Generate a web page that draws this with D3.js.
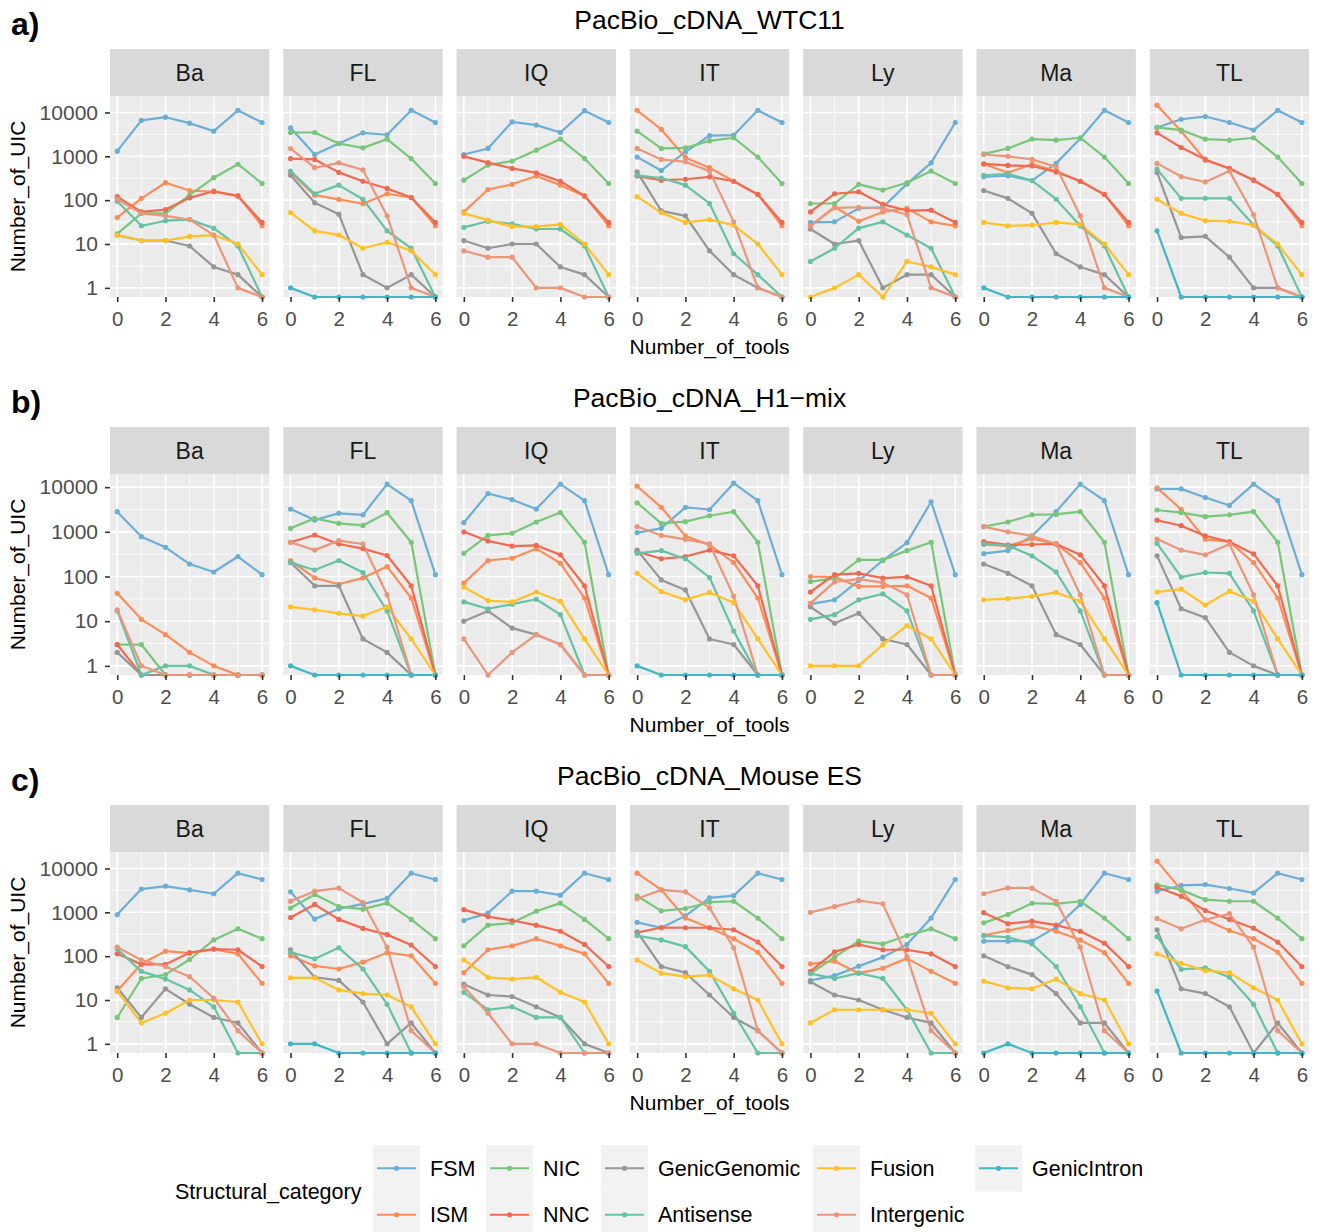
<!DOCTYPE html>
<html>
<head>
<meta charset="utf-8">
<script src="https://cdn.jsdelivr.net/npm/d3@7"></script>
<style>
  body { margin: 0; background: #fff; }
  text { font-family: "Liberation Sans", Arial, sans-serif; }
</style>
</head>
<body>
<svg id="chart" width="1324" height="1232"></svg>
<script>
// tools (facets), x values and structural categories
const tools = ["Ba", "FL", "IQ", "IT", "Ly", "Ma", "TL"];
const nTools = [0, 1, 2, 3, 4, 5, 6];
const categories = ["FSM", "ISM", "NIC", "NNC", "GenicGenomic", "Antisense", "Fusion", "Intergenic", "GenicIntron"];
const catColors = ["#6BAED6", "#FC8D59", "#78C679", "#EE6A50", "#969696", "#66C2A4", "#FFC125", "#E9967A", "#41B6C4"];
const datasets = ["PacBio_cDNA_WTC11", "PacBio_cDNA_H1\u2212mix", "PacBio_cDNA_Mouse ES"];
const rowLabels = ["a)", "b)", "c)"];
const yTicks = [1, 10, 100, 1000, 10000];
const xTicks = [0, 2, 4, 6];

// values per dataset and tool, rows in the order of `categories` (null = not present)
// a) WTC11
const wtc11_Ba = [
  [1310, 6600, 7800, 5700, 3750, 11200, 5900],
  [40, 110, 250, 166, 155, 125, 26],
  [17, 50, 50, 130, 325, 660, 240],
  [120, 54, 61, 113, 160, 125, 31],
  [16, 12, 12, 9, 3, 2, 0],
  [95, 26, 34, 36, 23, 9, 0],
  [16, 12, 12, 15, 16, 10, 2],
  [105, 50, 44, 36, 16, 1, 0],
  null];
const wtc11_FL = [
  [4470, 1100, 1960, 3440, 3100, 11200, 5900],
  [430, 130, 104, 83, 140, 115, 26],
  [3490, 3490, 1960, 1560, 2470, 890, 240],
  [890, 850, 430, 270, 185, 115, 31],
  [370, 87, 48, 2, 1, 2, 0],
  [460, 140, 220, 105, 20, 8, 0],
  [52, 20, 16, 8, 11, 7, 2],
  [1500, 550, 710, 490, 44, 1, 0],
  [1, 0, 0, 0, 0, 0, 0]];
const wtc11_IQ = [
  [1100, 1510, 6100, 5150, 3500, 11000, 5900],
  [54, 175, 230, 355, 220, 125, 26],
  [285, 630, 780, 1380, 2470, 890, 240],
  [1000, 720, 530, 420, 270, 125, 31],
  [12, 8, 10, 10, 3, 2, 0],
  [24, 33, 29, 22, 22, 9, 0],
  [50, 35, 25, 25, 28, 10, 2],
  [7, 5, 5, 1, 1, 0, 0],
  null];
const wtc11_IT = [
  [960, 475, 1260, 2950, 3030, 11200, 5900],
  [11200, 4100, 930, 550, 270, 135, 26],
  [3750, 1510, 1560, 2250, 2650, 960, 240],
  [355, 285, 300, 340, 270, 135, 31],
  [440, 57, 44, 7, 2, 1, 0],
  [370, 320, 220, 84, 6, 2, 0],
  [120, 52, 31, 36, 27, 10, 2],
  [1510, 850, 750, 460, 32, 1, 0],
  null];
const wtc11_Ly = [
  [31, 32, 65, 69, 235, 710, 5900],
  [26, 70, 33, 54, 65, 32, 26],
  [84, 84, 230, 170, 250, 460, 240],
  [54, 140, 155, 80, 58, 59, 31],
  [22, 10, 12, 1, 2, 2, 0],
  [4, 8, 23, 32, 16, 8, 0],
  [0, 1, 2, 0, 4, 3, 2],
  [26, 67, 69, 65, 47, 1, 0],
  null];
const wtc11_Ma = [
  [340, 360, 280, 690, 2560, 11200, 5900],
  [670, 420, 670, 460, 270, 135, 26],
  [1140, 1510, 2470, 2340, 2650, 960, 240],
  [670, 620, 600, 440, 270, 135, 31],
  [166, 110, 50, 6, 3, 2, 0],
  [370, 400, 280, 105, 26, 9, 0],
  [31, 26, 27, 31, 28, 10, 2],
  [1100, 1000, 850, 575, 44, 1, 0],
  [1, 0, 0, 0, 0, 0, 0]];
const wtc11_TL = [
  [4560, 7000, 8100, 5900, 3970, 11200, 5900],
  [14700, 3750, 815, 530, 285, 135, 26],
  [4560, 3970, 2470, 2340, 2650, 960, 240],
  [3430, 1590, 850, 530, 285, 135, 31],
  [430, 14, 15, 5, 1, 1, 0],
  [510, 110, 110, 110, 27, 9, 0],
  [105, 50, 34, 33, 27, 10, 2],
  [690, 345, 260, 460, 47, 1, 0],
  [20, 0, 0, 0, 0, 0, 0]];

// b) H1-mix
const h1_Ba = [
  [2820, 780, 450, 190, 126, 280, 110],
  [42, 11, 5, 2, 1, 0, 0],
  [3, 3, 0, 0, 0, 0, 0],
  [3, 0, 0, 0, 0, 0, 0],
  [2, 0, 0, 0, 0, 0, 0],
  [17, 0, 1, 1, 0, 0, 0],
  null,
  [18, 1, 0, 0, 0, 0, 0],
  null];
const h1_FL = [
  [3230, 1830, 2600, 2400, 11700, 4990, 110],
  [228, 93, 67, 93, 167, 33, 0],
  [1200, 2000, 1550, 1390, 2680, 585, 0],
  [585, 850, 535, 420, 295, 62, 0],
  [205, 62, 62, 4, 2, 0, 0],
  [205, 140, 228, 123, 17, 0, 0],
  [21, 18, 15, 13, 21, 4, 0],
  [585, 390, 635, 535, 39, 0, 0],
  [1, 0, 0, 0, 0, 0, 0]];
const h1_IQ = [
  [1600, 7200, 5250, 3230, 11700, 4990, 110],
  [71, 228, 256, 420, 198, 33, 0],
  [330, 830, 930, 1660, 2700, 585, 0],
  [1000, 625, 480, 500, 305, 62, 0],
  [10, 17, 7, 5, 3, 0, 0],
  [27, 19, 24, 31, 14, 0, 0],
  [58, 29, 27, 45, 28, 4, 0],
  [4, 0, 2, 5, 3, 0, 0],
  null];
const h1_IT = [
  [960, 1200, 3540, 3160, 12300, 4990, 110],
  [10500, 3540, 810, 510, 205, 33, 0],
  [4470, 1550, 1690, 2290, 2820, 585, 0],
  [360, 250, 280, 390, 290, 62, 0],
  [390, 84, 50, 4, 3, 0, 0],
  [330, 380, 250, 95, 6, 0, 0],
  [118, 46, 30, 44, 26, 4, 0],
  [1310, 830, 680, 535, 36, 0, 0],
  [1, 0, 0, 0, 0, 0, 0]];
const h1_Ly = [
  [24, 30, 81, 228, 575, 4700, 110],
  [100, 97, 60, 60, 62, 33, 0],
  [77, 91, 235, 235, 380, 585, 0],
  [45, 110, 118, 92, 98, 62, 0],
  [21, 9, 15, 4, 3, 0, 0],
  [11, 14, 30, 41, 17, 0, 0],
  [1, 1, 1, 3, 8, 4, 0],
  [25, 76, 87, 73, 39, 0, 0],
  null];
const h1_Ma = [
  [325, 380, 810, 2820, 11700, 4990, 110],
  [520, 480, 705, 535, 205, 33, 0],
  [1310, 1660, 2410, 2450, 2820, 585, 0],
  [605, 510, 520, 535, 305, 62, 0],
  [190, 118, 62, 5, 3, 0, 0],
  [535, 495, 290, 126, 17, 0, 0],
  [30, 32, 36, 44, 28, 4, 0],
  [1310, 1000, 810, 535, 39, 0, 0],
  null];
const h1_TL = [
  [9150, 9150, 5850, 3900, 11700, 4990, 110],
  [9660, 3200, 680, 600, 205, 33, 0],
  [3080, 2680, 2180, 2400, 2820, 585, 0],
  [1820, 1370, 810, 600, 320, 62, 0],
  [290, 19, 12, 2, 1, 0, 0],
  [550, 97, 123, 118, 17, 0, 0],
  [45, 52, 23, 47, 28, 4, 0],
  [690, 390, 305, 535, 39, 0, 0],
  [26, 0, 0, 0, 0, 0, 0]];

// c) Mouse ES
const mouse_Ba = [
  [890, 3390, 3960, 3250, 2650, 7800, 5600],
  [16, 67, 130, 117, 145, 113, 24],
  [4, 31, 38, 84, 235, 420, 250],
  [113, 65, 65, 120, 145, 140, 58],
  [19, 4, 18, 8, 4, 3, 0],
  [145, 45, 30, 17, 7, 0, 0],
  [16, 3, 5, 10, 10, 9, 1],
  [160, 82, 58, 34, 11, 2, 0],
  null];
const mouse_FL = [
  [2930, 700, 1200, 1560, 2080, 7800, 5600],
  [102, 60, 51, 73, 120, 102, 24],
  [1250, 2560, 1350, 1180, 1620, 690, 250],
  [760, 1510, 690, 430, 310, 180, 58],
  [140, 33, 28, 9, 1, 3, 0],
  [123, 87, 155, 51, 8, 0, 0],
  [32, 32, 17, 14, 13, 7, 1],
  [1800, 3030, 3560, 1670, 160, 2, 0],
  [1, 1, 0, 0, 0, 0, 0]];
const mouse_IQ = [
  [650, 960, 3030, 3030, 2460, 7800, 5600],
  [42, 140, 172, 250, 172, 113, 24],
  [172, 510, 575, 1060, 1620, 690, 250],
  [1150, 800, 650, 510, 370, 185, 58],
  [23, 13, 12, 7, 4, 1, 0],
  [15, 6, 7, 4, 4, 0, 0],
  [82, 33, 30, 33, 15, 9, 1],
  [20, 5, 1, 1, 0, 0, 0],
  null];
const mouse_IT = [
  [590, 445, 830, 2140, 2400, 7800, 5600],
  [7800, 3250, 740, 445, 250, 123, 24],
  [2350, 1080, 1220, 1700, 1790, 740, 250],
  [345, 450, 445, 445, 400, 210, 58],
  [360, 58, 42, 13, 4, 2, 0],
  [295, 235, 165, 45, 5, 0, 0],
  [82, 41, 34, 37, 18, 10, 1],
  [2040, 3250, 2930, 1260, 155, 2, 0],
  null];
const mouse_Ly = [
  [28, 36, 59, 95, 185, 740, 5600],
  [67, 77, 41, 53, 89, 45, 24],
  [40, 95, 220, 190, 295, 420, 250],
  [45, 125, 185, 140, 140, 113, 58],
  [26, 13, 10, 6, 4, 3, 0],
  [40, 31, 41, 31, 6, 0, 0],
  [3, 6, 6, 6, 6, 5, 1],
  [1000, 1350, 1860, 1560, 98, 2, 0],
  null];
const mouse_Ma = [
  [220, 220, 220, 460, 1510, 7800, 5600],
  [300, 385, 490, 370, 235, 120, 24],
  [575, 890, 1610, 1560, 1790, 740, 250],
  [980, 550, 630, 510, 370, 198, 58],
  [102, 58, 38, 14, 3, 3, 0],
  [295, 270, 190, 58, 7, 0, 0],
  [27, 19, 18, 30, 14, 10, 1],
  [2650, 3610, 3560, 1770, 160, 2, 0],
  [0, 1, 0, 0, 0, 0, 0]];
const mouse_TL = [
  [3030, 4100, 4300, 3490, 2770, 7800, 5600],
  [14700, 3250, 675, 385, 250, 123, 24],
  [4230, 3250, 1940, 1790, 1790, 740, 250],
  [3740, 2340, 1100, 690, 435, 210, 58],
  [400, 18, 14, 7, 0, 3, 0],
  [280, 50, 54, 33, 8, 0, 0],
  [113, 69, 47, 42, 19, 10, 1],
  [725, 420, 675, 930, 160, 2, 0],
  [16, 0, 0, 0, 0, 0, 0]];

const rowsData = [
  [wtc11_Ba, wtc11_FL, wtc11_IQ, wtc11_IT, wtc11_Ly, wtc11_Ma, wtc11_TL],
  [h1_Ba, h1_FL, h1_IQ, h1_IT, h1_Ly, h1_Ma, h1_TL],
  [mouse_Ba, mouse_FL, mouse_IQ, mouse_IT, mouse_Ly, mouse_Ma, mouse_TL]
];

// layout
const svg = d3.select("#chart");
const left0 = 110, panelW = 159.3, gapX = 14;
const stripH = 47, panelH = 201;
const rowStep = 378, firstStrip = 49;
const centerX = left0 + (7 * panelW + 6 * gapX) / 2;

const x = d3.scaleLinear().domain([-0.3, 6.3]).range([0, panelW]);

rowsData.forEach((rowData, r) => {
  const top = firstStrip + r * rowStep;
  const pTop = top + stripH;

  // shared log scale for the row, 5% expansion like ggplot
  const vmax = d3.max(rowData.flat().filter(s => s).flat());
  const L = Math.log10(vmax);
  const y = d3.scaleLog()
    .domain([Math.pow(10, -0.05 * L), Math.pow(10, L * 1.05)])
    .range([panelH, 0]);
  const yv = v => (v > 0 ? y(v) : panelH); // zero -> -Inf -> panel edge

  // titles
  svg.append("text")
    .attr("x", 11).attr("y", 35 + r * rowStep)
    .attr("font-size", 32).attr("font-weight", "bold")
    .text(rowLabels[r]);
  svg.append("text")
    .attr("x", centerX).attr("y", 29 + r * rowStep)
    .attr("text-anchor", "middle").attr("font-size", 26.5).attr("fill", "#000")
    .text(datasets[r]);
  svg.append("text")
    .attr("x", centerX).attr("y", 354 + r * rowStep)
    .attr("text-anchor", "middle").attr("font-size", 21).attr("fill", "#000")
    .text("Number_of_tools");
  svg.append("text")
    .attr("transform", `translate(25,${pTop + panelH / 2}) rotate(-90)`)
    .attr("text-anchor", "middle").attr("font-size", 21).attr("fill", "#000")
    .text("Number_of_UIC");

  tools.forEach((tool, t) => {
    const px = left0 + t * (panelW + gapX);
    const g = svg.append("g").attr("transform", `translate(${px},${pTop})`);

    // strip
    svg.append("rect")
      .attr("x", px).attr("y", top)
      .attr("width", panelW).attr("height", stripH)
      .attr("fill", "#D9D9D9");
    svg.append("text")
      .attr("x", px + panelW / 2).attr("y", top + stripH / 2 + 8)
      .attr("text-anchor", "middle").attr("font-size", 23).attr("fill", "#1A1A1A")
      .text(tool);

    // panel background and grid
    g.append("rect").attr("width", panelW).attr("height", panelH).attr("fill", "#EBEBEB");
    g.selectAll(".minx").data([1, 3, 5]).enter().append("line")
      .attr("x1", d => x(d)).attr("x2", d => x(d)).attr("y1", 0).attr("y2", panelH)
      .attr("stroke", "#fff").attr("stroke-width", 0.8);
    g.selectAll(".miny").data([0.5, 1.5, 2.5, 3.5].map(e => Math.pow(10, e))).enter().append("line")
      .attr("x1", 0).attr("x2", panelW).attr("y1", d => y(d)).attr("y2", d => y(d))
      .attr("stroke", "#fff").attr("stroke-width", 0.8);
    g.selectAll(".majx").data(xTicks).enter().append("line")
      .attr("x1", d => x(d)).attr("x2", d => x(d)).attr("y1", 0).attr("y2", panelH)
      .attr("stroke", "#fff").attr("stroke-width", 1.6);
    g.selectAll(".majy").data(yTicks).enter().append("line")
      .attr("x1", 0).attr("x2", panelW).attr("y1", d => y(d)).attr("y2", d => y(d))
      .attr("stroke", "#fff").attr("stroke-width", 1.6);

    // series: all lines first, then the points
    const series = rowData[t]
      .map((vals, c) => ({ vals, color: catColors[c] }))
      .filter(s => s.vals);
    const line = d3.line().x((d, i) => x(nTools[i])).y(d => yv(d));
    g.selectAll(".series").data(series).enter().append("path")
      .attr("d", s => line(s.vals))
      .attr("fill", "none").attr("stroke", s => s.color)
      .attr("stroke-width", 2.2).attr("stroke-linejoin", "round");
    series.forEach(s => {
      g.selectAll(null).data(s.vals).enter().append("circle")
        .attr("cx", (d, i) => x(nTools[i])).attr("cy", d => yv(d))
        .attr("r", 2.6).attr("fill", s.color);
    });

    // x axis on every facet
    const xa = g.append("g").attr("transform", `translate(0,${panelH})`)
      .call(d3.axisBottom(x).tickValues(xTicks).tickFormat(d3.format("d")).tickSize(5).tickPadding(9));
    xa.select(".domain").remove();
    xa.selectAll("line").attr("stroke", "#333").attr("stroke-width", 1.6);
    xa.selectAll("text").attr("font-size", 20.5).attr("fill", "#4D4D4D")
      .attr("font-family", "Liberation Sans, Arial, sans-serif");

    // y axis only on first facet
    if (t === 0) {
      const ya = g.append("g")
        .call(d3.axisLeft(y).tickValues(yTicks).tickFormat(d3.format("d")).tickSize(5).tickPadding(7));
      ya.select(".domain").remove();
      ya.selectAll("line").attr("stroke", "#333").attr("stroke-width", 1.6);
      ya.selectAll("text").attr("font-size", 21).attr("fill", "#4D4D4D")
        .attr("font-family", "Liberation Sans, Arial, sans-serif");
    }
  });
});

// legend
const legendCols = [[0, 1], [2, 3], [4, 5], [6, 7], [8]];
const legendColX = [373, 486, 601, 813, 975];
const keyW = 47, keyH = 46.5, keyTop = 1145;
const legend = svg.append("g");
legend.append("text")
  .attr("x", 175).attr("y", 1199)
  .attr("font-size", 21.5).attr("fill", "#000")
  .text("Structural_category");
legendCols.forEach((col, ci) => {
  col.forEach((c, ri) => {
    const kx = legendColX[ci], ky = keyTop + ri * keyH;
    legend.append("rect").attr("x", kx).attr("y", ky)
      .attr("width", keyW).attr("height", keyH).attr("fill", "#F2F2F2");
    legend.append("line")
      .attr("x1", kx + 4).attr("x2", kx + keyW - 4)
      .attr("y1", ky + keyH / 2).attr("y2", ky + keyH / 2)
      .attr("stroke", catColors[c]).attr("stroke-width", 2.2);
    legend.append("circle").attr("cx", kx + keyW / 2).attr("cy", ky + keyH / 2)
      .attr("r", 2.6).attr("fill", catColors[c]);
    legend.append("text")
      .attr("x", kx + keyW + 10).attr("y", ky + keyH / 2 + 7.5)
      .attr("font-size", 21.5).attr("fill", "#000")
      .text(categories[c]);
  });
});
</script>
</body>
</html>
